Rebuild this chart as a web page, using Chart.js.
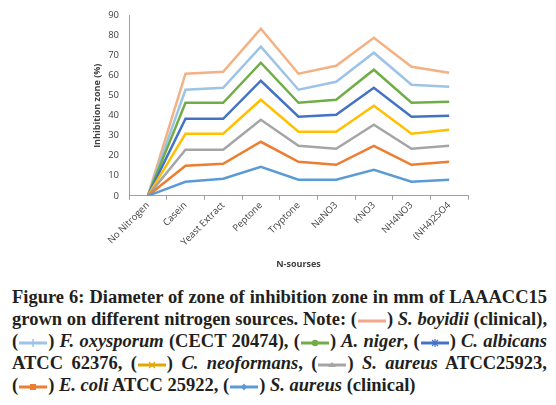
<!DOCTYPE html>
<html>
<head>
<meta charset="utf-8">
<script src="https://cdn.jsdelivr.net/npm/chart.js@4"></script>
<style>
  html, body { margin: 0; padding: 0; background: #fff; }
  body { width: 556px; height: 405px; overflow: hidden; position: relative; }
  #wrap { position: absolute; left: 0; top: 0; width: 556px; height: 274px; }
  #caption {
    position: absolute; left: 12px; top: 286px; width: 535px;
    font-family: "Liberation Serif", serif; font-weight: bold; font-size: 18.5px;
    line-height: 22px; color: #231f20;
  }
  #caption .ln { white-space: nowrap; text-align: justify; text-align-last: justify; }
  #caption .ln.last { text-align-last: left; }
  #caption svg { vertical-align: middle; }
  #caption i { font-weight: bold; }
</style>
</head>
<body>
<div id="wrap"><canvas id="zoneChart"></canvas></div>
<div id="caption"></div>
<script>
const sources = ['No Nitrogen', 'Casein', 'Yeast Extract', 'Peptone', 'Tryptone', 'NaNO3', 'KNO3', 'NH4NO3', '(NH4)2SO4'];

// diameter of inhibition zone per organism (stacked in the chart)
const sAureusClinical = [0, 7, 8.5, 14.5, 8, 8, 13, 7, 8];
const eColi = [0, 8, 7.5, 12.5, 9, 7.5, 12, 8.5, 9];
const sAureusAtcc = [0, 8, 7, 11, 8, 8, 10.5, 8, 8];
const cNeoformans = [0, 8, 8, 10, 7, 8.5, 9.5, 7.5, 8];
const cAlbicans = [0, 7.5, 7.5, 9.5, 7.5, 8.5, 9, 8.5, 7];
const aNiger = [0, 8, 8, 9, 7, 7.5, 9, 7, 7];
const fOxysporum = [0, 6.5, 7.5, 8, 6.5, 9, 8.5, 9, 7.5];
const sBoyidii = [0, 8, 8, 9, 8, 8, 7.5, 9, 7];

const yTicks = [0, 10, 20, 30, 40, 50, 60, 70, 80, 90];

const series = [
  { label: 'S. aureus (clinical)', data: sAureusClinical, color: '#5B9BD5' },
  { label: 'E. coli ATCC 25922', data: eColi, color: '#ED7D31' },
  { label: 'S. aureus ATCC25923', data: sAureusAtcc, color: '#A5A5A5' },
  { label: 'C. neoformans', data: cNeoformans, color: '#FFC000' },
  { label: 'C. albicans ATCC 62376', data: cAlbicans, color: '#4472C4' },
  { label: 'A. niger', data: aNiger, color: '#70AD47' },
  { label: 'F. oxysporum (CECT 20474)', data: fOxysporum, color: '#9DC3E6' },
  { label: 'S. boyidii (clinical)', data: sBoyidii, color: '#F4B183' }
];

const ctx = document.getElementById('zoneChart');

const chart = new Chart(ctx, {
  type: 'line',
  data: {
    labels: sources,
    datasets: series.map(s => ({
      label: s.label,
      data: s.data,
      borderColor: s.color,
      backgroundColor: s.color,
      borderWidth: 2.5,
      pointRadius: 0,
      tension: 0,
      fill: false
    }))
  },
  options: {
    responsive: true,
    maintainAspectRatio: false,
    animation: false,
    layout: { padding: { left: 92, right: 88, top: 5, bottom: 0 } },
    plugins: {
      legend: { display: false },
      tooltip: { enabled: false }
    },
    scales: {
      x: {
        offset: true,
        grid: { offset: true, drawOnChartArea: false, tickLength: 4, color: '#a0a0a0' },
        border: { color: '#a0a0a0' },
        ticks: { font: { family: 'Open Sans', size: 9.5 }, color: '#404040', minRotation: 45, maxRotation: 45, padding: 0, autoSkip: false },
        title: { display: true, text: 'N-sourses', font: { family: 'Open Sans', size: 9, weight: 'bold' }, color: '#404040', padding: { top: 11 } }
      },
      y: {
        stacked: true,
        min: 0,
        max: 90,
        afterBuildTicks: axis => { axis.ticks = yTicks.map(v => ({ value: v })); },
        afterFit: axis => { axis.width = 37; },
        grid: { drawOnChartArea: false, tickLength: 0, color: '#a0a0a0' },
        border: { color: '#a0a0a0' },
        ticks: { font: { family: 'Open Sans', size: 9.5 }, color: '#404040', padding: 10 },
        title: { display: true, text: 'Inhibition zone (%)', font: { family: 'Open Sans', size: 9, weight: 'bold' }, color: '#404040', padding: { top: 0, bottom: 0 } }
      }
    }
  }
});

// caption with small line samples
function swatch(color, marker) {
  let m = '';
  if (marker === 'plus') m = `<line x1="15" y1="3" x2="15" y2="11" stroke="${color}" stroke-width="1.5"/>`;
  if (marker === 'circle') m = `<circle cx="15" cy="7" r="3.2" fill="${color}"/>`;
  if (marker === 'star') m = `<path d="M12 4L18 10M18 4L12 10M15 3V11" stroke="${color}" stroke-width="1.2"/>`;
  if (marker === 'x') m = `<path d="M12 4L18 10M18 4L12 10" stroke="${color}" stroke-width="1.3"/>`;
  if (marker === 'tri') m = `<path d="M11 9L19 9L15 4Z" fill="${color}"/>`;
  if (marker === 'square') m = `<rect x="12" y="4" width="6" height="6" fill="${color}"/>`;
  if (marker === 'diamond') m = `<path d="M15 3.5L18 7L15 10.5L12 7Z" fill="${color}"/>`;
  return `(<svg width="30" height="14"><line x1="1" y1="7" x2="29" y2="7" stroke="${color}" stroke-width="3"/>${m}</svg>)`;
}

const lines = [
  'Figure 6: Diameter of zone of inhibition zone in mm of LAAACC15',
  `grown on different nitrogen sources. Note: ${swatch('#F4A58A', '')} <i>S. boyidii</i> (clinical),`,
  `${swatch('#9DC3E6', 'plus')} <i>F. oxysporum</i> (CECT 20474), ${swatch('#70AD47', 'circle')} <i>A. niger</i>, ${swatch('#4472C4', 'star')} <i>C. albicans</i>`,
  `ATCC 62376, ${swatch('#E0A800', 'x')} <i>C. neoformans</i>, ${swatch('#A5A5A5', 'tri')} <i>S. aureus</i> ATCC25923,`,
  `${swatch('#ED7D31', 'square')} <i>E. coli</i> ATCC 25922, ${swatch('#5B9BD5', 'diamond')} <i>S. aureus</i> (clinical)`
];
document.getElementById('caption').innerHTML = lines
  .map((t, i) => `<div class="ln${i === lines.length - 1 ? ' last' : ''}">${t}</div>`)
  .join('');
</script>
</body>
</html>
